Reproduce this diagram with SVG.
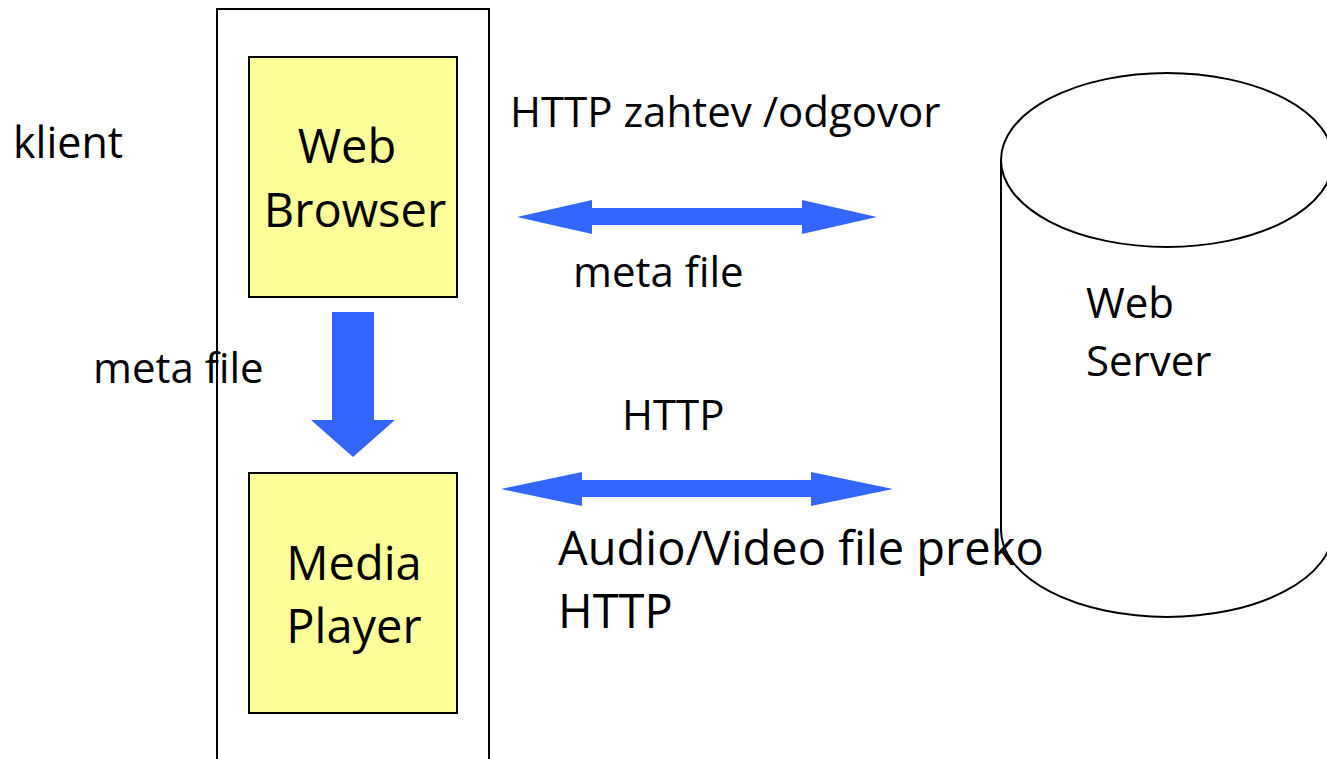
<svg xmlns="http://www.w3.org/2000/svg" width="1327" height="759" viewBox="0 0 1327 759">
<style>
text{font-family:"Open Sans","Liberation Sans",sans-serif;fill:#000}
.lbl{font-size:42px}
.big{font-size:47px}
.box{fill:#FFFF99;stroke:#000;stroke-width:2}
.arr{fill:#3366FF}
</style>
<rect width="1327" height="759" fill="#fff"/>
<g id="client">
<rect x="217" y="9" width="272" height="770" fill="none" stroke="#000" stroke-width="2"/>
</g>
<text x="13" y="158" font-size="43">klient</text>
<g id="web-browser">
<rect class="box" x="249" y="57" width="208" height="240"/>
<text class="big" x="347" y="163" text-anchor="middle">Web</text>
<text class="big" x="355" y="227" text-anchor="middle">Browser</text>
</g>
<g id="media-player">
<rect class="box" x="249" y="473" width="208" height="240"/>
<text class="big" x="354" y="580" text-anchor="middle">Media</text>
<text class="big" x="354" y="643" text-anchor="middle">Player</text>
</g>
<g id="web-server">
<path d="M1001,160 V530 A166,87 0 0 0 1333,530 V160" fill="#fff" stroke="#000" stroke-width="2"/>
<ellipse cx="1167" cy="160" rx="166" ry="87" fill="#fff" stroke="#000" stroke-width="2"/>
<text class="lbl" x="1086" y="318">Web</text>
<text class="lbl" x="1086" y="376">Server</text>
</g>
<g id="connectors">
<polygon class="arr" points="517,217 592,200 592,208 802,208 802,200 877,217 802,234 802,225 592,225 592,234"/>
<polygon class="arr" points="501,489 582,472 582,480 811,480 811,472 893,489 811,506 811,497 582,497 582,506"/>
<polygon class="arr" points="332,312 374,312 374,420 395,420 353,457 311,420 332,420"/>
</g>
<text class="lbl" x="510" y="127">HTTP zahtev /odgovor</text>
<text class="lbl" x="573" y="287">meta file</text>
<text class="lbl" x="93" y="383">meta file</text>
<text class="lbl" x="622" y="430">HTTP</text>
<text class="big" x="558" y="565">Audio/Video file preko</text>
<text class="big" x="558" y="628">HTTP</text>
</svg>
